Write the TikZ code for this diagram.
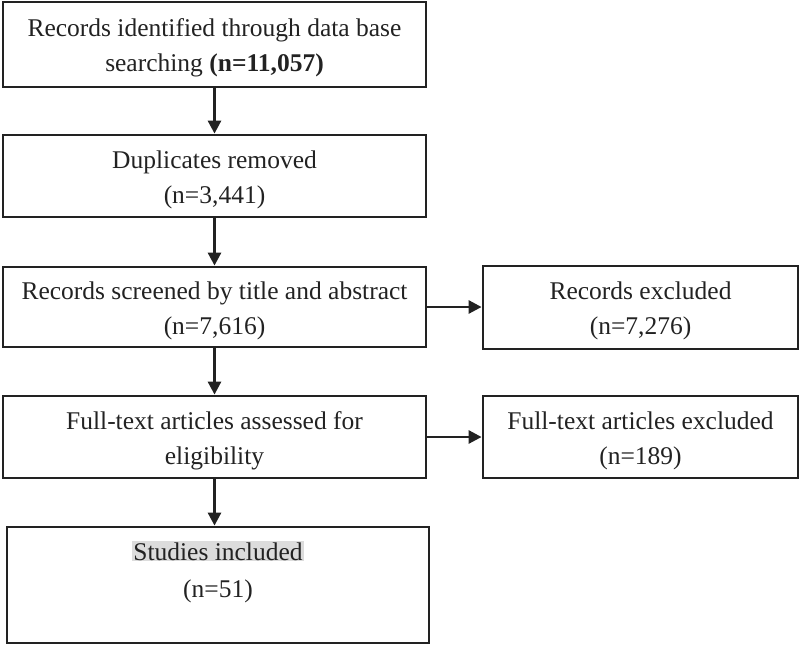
\documentclass[tikz,border=0pt]{standalone}
\usepackage{fontspec}
\setmainfont{Liberation Serif}
\usetikzlibrary{arrows.meta}
\definecolor{ink}{HTML}{222222}
\definecolor{hl}{HTML}{DCDCDC}
\begin{document}
\begin{tikzpicture}[x=1pt,y=1pt,
  box/.style={draw=ink,line width=2.8pt,text=ink,align=center,inner sep=0pt,
    font=\fontsize{25.5}{35}\selectfont},
  lbox/.style={box,minimum width=423pt},
  rbox/.style={box,minimum width=315pt},
  arr/.style={draw=ink,line width=2.8pt,-{Triangle[length=13pt,width=13pt]}}]
\useasboundingbox (0,0) rectangle (800,-645);
\node[lbox,minimum height=85pt] (b1) at (214.5,-44.5) {\strut Records identified through data base\\searching \textbf{(n=11,057)}};
\node[lbox,minimum height=82pt] (b2) at (214.5,-176) {\strut Duplicates removed\\(n=3,441)};
\node[lbox,minimum height=80pt] (b3) at (214.5,-307) {\strut Records screened by title and abstract\\(n=7,616)};
\node[lbox,minimum height=82pt] (b4) at (214.5,-437) {\strut Full-text articles assessed for\\eligibility};
\node[lbox,minimum width=422pt,minimum height=116pt] (b5) at (218,-585) {};
\node[text=ink,align=center,inner sep=0pt,font=\fontsize{25.5}{37}\selectfont] (b5t) at (218,-572)
  {{\setlength{\fboxsep}{1pt}\colorbox{hl}{Studies included}}\\(n=51)};
\node[rbox,minimum height=83pt] (r1) at (640.5,-307.5) {\strut Records excluded\\(n=7,276)};
\node[rbox,minimum height=82pt] (r2) at (640.5,-437) {\strut Full-text articles excluded\\(n=189)};
\draw[arr] (b1.south) -- (b2.north);
\draw[arr] (b2.south) -- (b3.north);
\draw[arr] (b3.south) -- (b4.north);
\draw[arr] (b4.south) -- (b4.south |- b5.north);
\draw[arr] (b3.east) -- (b3.east -| r1.west);
\draw[arr] (b4.east) -- (r2.west);
\end{tikzpicture}
\end{document}
